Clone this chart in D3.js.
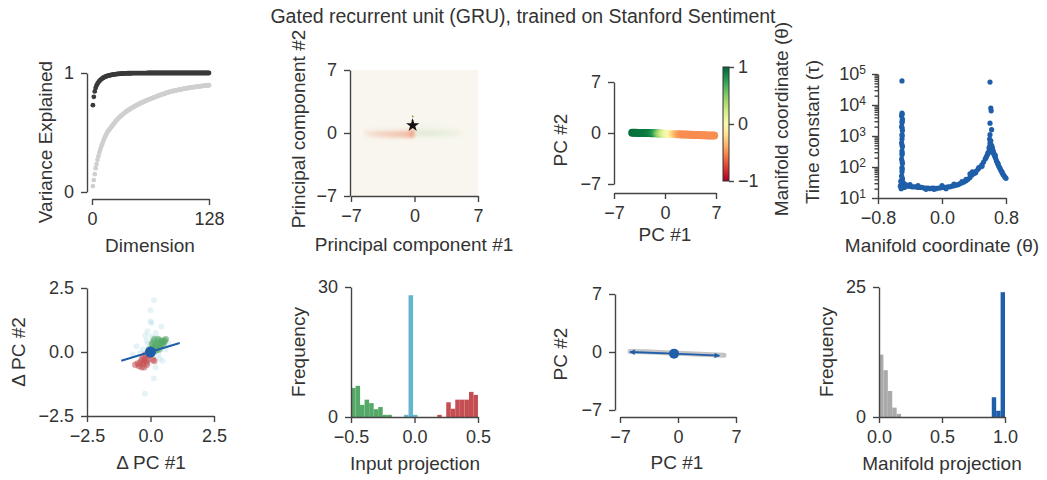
<!DOCTYPE html>
<html><head><meta charset="utf-8">
<script src="https://cdn.jsdelivr.net/npm/d3@7"></script>
<style>
body{margin:0;background:#fff;}
svg text{font-family:"Liberation Sans",Arial,Helvetica,sans-serif;fill:#333;}
</style></head><body>
<svg id="c" width="1047" height="480"></svg>
<script>
// ---------------- DATA ----------------
const title = "Gated recurrent unit (GRU), trained on Stanford Sentiment";

// Panel 1: cumulative variance explained (dimension 1..128)
const varDims = d3.range(1, 129);
const varState = [0.73,0.80,0.845,0.875,0.895,0.91,0.922,0.932,0.94,0.947,0.953,0.958,0.963,0.967,0.97,0.973,0.976,0.978,0.98,0.982,
0.984,0.985,0.987,0.988,0.989,0.99,0.991,0.992,0.993,0.993,0.994,0.995,0.995,0.996,0.996,0.997,0.997,0.997,0.998,0.998,
0.998,0.998,0.998,0.999,0.999,0.999,0.999,0.999,0.999,0.999,0.999,0.999,0.999,0.999,0.999,0.999,0.999,0.999,0.999,0.999,
1,1,1,1,1,1,1,1,1,1,1,1,1,1,1,1,1,1,1,1,1,1,1,1,1,1,1,1,1,1,1,1,1,1,1,1,1,1,1,1,
1,1,1,1,1,1,1,1,1,1,1,1,1,1,1,1,1,1,1,1,1,1,1,1,1,1,1,1];
const varRandom = [0.05,0.1,0.15,0.2,0.235,0.27,0.3,0.33,0.355,0.38,0.4,0.42,0.44,0.46,0.475,0.49,0.505,0.515,0.525,0.535,
0.545,0.555,0.565,0.575,0.585,0.595,0.605,0.613,0.62,0.628,0.635,0.642,0.648,0.655,0.661,0.667,0.673,0.679,0.684,0.689,
0.694,0.699,0.704,0.709,0.713,0.717,0.722,0.726,0.73,0.734,0.738,0.742,0.746,0.75,0.753,0.757,0.76,0.764,0.767,0.77,
0.774,0.777,0.78,0.783,0.786,0.789,0.792,0.795,0.798,0.801,0.804,0.807,0.81,0.813,0.816,0.818,0.821,0.823,0.826,0.828,
0.832,0.835,0.837,0.839,0.841,0.843,0.845,0.847,0.849,0.851,0.852,0.854,0.856,0.857,0.859,0.861,0.862,0.864,0.865,0.867,
0.868,0.87,0.871,0.872,0.874,0.875,0.876,0.877,0.879,0.88,0.881,0.882,0.883,0.884,0.885,0.886,0.887,0.888,0.889,0.89,
0.891,0.892,0.893,0.894,0.895,0.895,0.896,0.897];

// Panel 2: 2D density of states (x-bin centres, rows; negative = red, positive = green)
const heatX = [-5.25,-4.75,-4.25,-3.75,-3.25,-2.75,-2.25,-1.75,-1.25,-0.75,-0.25,0.25,0.75,1.25,1.75,2.25,2.75,3.25,3.75,4.25,4.75,5.25];
const heatRowY = [0.9, 0.35, 0, -0.35];
const heatUp  = [0,0,0,0,0,0,0,0,0,0,-0.2,0.06,0.06,0.06,0.05,0.04,0.03,0.02,0,0,0,0];
const heatTop = [-0.03,-0.05,-0.06,-0.07,-0.08,-0.09,-0.1,-0.11,-0.13,-0.16,-0.5,0.12,0.12,0.12,0.12,0.11,0.1,0.08,0.06,0.05,0.03,0];
const heatMid = [-0.15,-0.25,-0.3,-0.33,-0.36,-0.39,-0.42,-0.46,-0.5,-0.6,-0.85,0.24,0.24,0.24,0.24,0.23,0.21,0.19,0.16,0.12,0.08,0.04];
const heatBot = [-0.08,-0.14,-0.2,-0.25,-0.3,-0.35,-0.4,-0.45,-0.5,-0.55,-0.7,0.12,0.12,0.12,0.12,0.12,0.11,0.1,0.08,0.06,0.04,0];
const fixedPoint = [-0.2, 0.85];

// Panel 3: line attractor coloured by manifold coordinate
const manPC1 = [-4.5,-4.25,-4,-3.75,-3.5,-3.25,-3,-2.75,-2.5,-2.25,-2,-1.75,-1.5,-1.25,-1,-0.75,-0.5,-0.25,0,0.25,0.5,0.75,1,1.25,1.5,1.75,2,2.25,2.5,2.75,3,3.25,3.5,3.75,4,4.25,4.5,4.75,5,5.25,5.5,5.75,6,6.25,6.5,6.75];
const manPC2 = [0.02,0.02,0.02,0.01,0.01,0.01,0,0,0,-0.01,-0.02,-0.03,-0.04,-0.05,-0.06,-0.07,-0.08,-0.09,-0.1,-0.11,-0.12,-0.13,-0.14,-0.15,-0.16,-0.17,-0.18,-0.19,-0.2,-0.21,-0.22,-0.23,-0.24,-0.25,-0.26,-0.27,-0.28,-0.29,-0.3,-0.31,-0.32,-0.33,-0.33,-0.34,-0.34,-0.35];
const manTheta = [0.97,0.97,0.96,0.96,0.95,0.95,0.94,0.94,0.93,0.92,0.9,0.86,0.8,0.7,0.56,0.43,0.32,0.22,0.14,0.07,0.02,-0.05,-0.15,-0.25,-0.33,-0.4,-0.45,-0.48,-0.5,-0.5,-0.5,-0.5,-0.5,-0.5,-0.5,-0.5,-0.5,-0.5,-0.5,-0.5,-0.5,-0.5,-0.5,-0.5,-0.5,-0.5];
const cbTicks = [1, 0, -1];

// Panel 4: time constants along the manifold
const tcTheta = [
-0.5,-0.5,-0.505,-0.495,-0.5,-0.505,-0.495,-0.5,-0.5,-0.505,-0.495,-0.5,-0.5,-0.505,-0.495,-0.5,-0.5,-0.505,-0.495,-0.5,-0.51,-0.49,-0.5,
-0.498,-0.498,-0.498,-0.498,-0.498,-0.498,-0.498,-0.498,-0.498,
-0.52,-0.48,-0.46,-0.515,-0.47,-0.44,-0.51,
-0.45,-0.425,-0.4,-0.375,-0.35,-0.325,-0.3,-0.275,-0.25,-0.225,-0.2,-0.175,-0.15,-0.125,-0.1,-0.075,-0.05,-0.025,0,0.025,0.05,0.075,0.1,0.125,0.15,0.175,0.2,0.225,0.25,0.275,0.3,0.325,0.35,0.375,0.4,0.425,0.45,0.475,0.5,0.52,0.54,0.56,0.575,0.59,0.6,
-0.4,-0.3,-0.2,-0.1,0,0.05,0.15,0.25,0.3,0.35,0.38,0.42,0.46,0.5,0.55,0.57,
0.6,0.61,0.615,0.6,0.62,0.6,0.595,0.6,0.61,0.62,0.63,0.615,0.625,0.605,0.59,
0.64,0.65,0.66,0.67,0.68,0.69,0.7,0.71,0.72,0.73,0.74,0.75,0.76,0.77,0.78,0.79,0.8,0.645,0.665,0.7,0.75];
const tcTau = [
60000,5500,4500,3500,2700,2000,1500,1100,800,600,450,330,250,180,130,95,70,52,40,33,28,25,22,
5000,3000,1800,1000,500,280,150,85,45,
24,30,27,35,22,26,20,
25,24,24,23,23,23,22,22,22,21,21,21,20,21,21,20,21,21,22,22,22,23,23,24,25,26,27,29,31,33,36,40,46,55,62,72,85,100,120,145,180,230,290,380,460,
27,25,19,19,25,20,28,34,40,60,70,65,95,105,200,260,
55000,8000,6500,2600,1600,1100,800,600,700,500,420,350,300,520,430,
330,260,220,190,160,140,120,105,95,85,75,66,60,55,50,46,43,280,240,130,70];

// Panel 5: input-driven state changes
const dpcFaintX = [0.14,0,0,0.04,-0.12,0.21,0.43,-0.2,0.13,-0.22,0.47,-0.55,-0.3,0.3,-0.1,0.1,0.25,-0.4,0.6,0.05,-0.15,0.35,-0.05,0.2,0.7,-0.7];
const dpcFaintY = [2.02,1.63,1.2,1.13,0.81,0.74,1.0,0.64,-1.04,-1.63,-0.34,0.22,0.1,-0.1,0.3,-0.2,0.55,-0.05,0.1,0.6,0.45,-0.25,-0.45,-0.6,0.35,-0.1];
const dpcGreenX = [0.2,0.3,0.45,0.55,0.6,0.35,0.15,0.25,0.1,0.05,0.4,0.5,0.3,0.2,-0.05,0.15,0.35,0.45,0.25,0.55,0.1,0.4];
const dpcGreenY = [0.3,0.35,0.4,0.45,0.5,0.2,0.15,0.1,0.4,0.3,0.25,0.3,0.5,0.05,0.1,0.5,0.1,0.35,0.25,0.4,0.2,0.45];
const dpcRedX = [-0.6,-0.45,-0.35,-0.3,-0.25,-0.2,-0.15,-0.1,-0.3,-0.4,-0.2,0.1,-0.05,-0.25,-0.5,0.15,-0.35,-0.15];
const dpcRedY = [-0.5,-0.55,-0.6,-0.45,-0.35,-0.25,-0.5,-0.3,-0.2,-0.4,-0.1,-0.3,-0.15,-0.6,-0.45,-0.35,-0.3,-0.4];
const dpcLineX = [-1.15, 1.15];
const dpcLineY = [-0.34, 0.35];

// Panel 6: histogram of input projections (bin left edges, heights)
const projBinW = 0.0357;
const projGreenX0 = [-0.5,-0.464,-0.429,-0.393,-0.357,-0.321,-0.286,-0.25,-0.214];
const projGreenN  = [6.7,7.2,2.8,4.0,3.2,1.8,2.3,0.5,0.5];
const projCyanX0 = [-0.083,-0.047,-0.012];
const projCyanN  = [0.5,28.1,0.5];
const projRedX0 = [0.179,0.214,0.25,0.286,0.321,0.357,0.393,0.429,0.464];
const projRedN  = [0.5,0,3.4,1.9,4.0,4.0,4.0,5.8,5.1];

// Panel 7: manifold and input direction
const pathPC1 = [-5.8,-4,-2,0,2,4,5.55];
const pathPC2 = [0.05,0.02,-0.05,-0.15,-0.25,-0.33,-0.4];
const inputCenter = [-0.48, -0.2];
const inputEndsPC1 = [-5.8, 5.0];
const inputEndsPC2 = [0.0, -0.44];

// Panel 8: histogram of manifold projections
const mpBinW = 0.035;
const mpGrayX0 = [0,0.035,0.07,0.105,0.14];
const mpGrayN  = [12.0,9.0,5.0,1.8,0.6];
const mpBlueX0 = [0.895,0.93,0.965];
const mpBlueN  = [3.8,1.2,24.0];

// ---------------- DRAWING ----------------
const svg = d3.select("#c");
const AX = "#444", TXT = "#333", FS_T = 18, FS_L = 19;
const BLUE = "#1f5ea8";

function drawAxis(scale, orient, pos, ticks, labels, o = {}) {
  const ax = (orient === "left" ? d3.axisLeft(scale) : d3.axisBottom(scale))
    .tickValues(ticks).tickFormat((d, i) => labels ? labels[i] : "")
    .tickSize(o.size || 6).tickSizeOuter(0).tickPadding(o.pad || 7);
  const g = svg.append("g")
    .attr("transform", orient === "left" ? `translate(${pos},0)` : `translate(0,${pos})`)
    .call(ax).attr("font-family", null).attr("font-size", null);
  g.select(".domain").attr("stroke", AX).attr("stroke-width", 1.4);
  g.selectAll(".tick line").attr("stroke", AX).attr("stroke-width", 1.4);
  g.selectAll(".tick text").attr("font-size", FS_T).attr("fill", TXT);
  if (o.noDomain) g.select(".domain").remove();
  return g;
}
function label(txt, x, y, rot) {
  const t = svg.append("text").attr("font-size", FS_L).attr("text-anchor", "middle")
    .attr("dy", "0.35em").text(txt);
  if (rot) t.attr("transform", `translate(${x},${y}) rotate(-90)`);
  else t.attr("x", x).attr("y", y);
  return t;
}

svg.append("text").attr("x", 523).attr("y", 16).attr("dy", "0.35em").attr("text-anchor", "middle")
  .attr("font-size", 19.5).text(title);

// ---- Panel 1
{
  const x = d3.scaleLinear().domain([0, 128]).range([92, 209]);
  const y = d3.scaleLinear().domain([0, 1]).range([192, 73]);
  svg.append("g").selectAll("circle").data(varDims).join("circle")
    .attr("cx", d => x(d)).attr("cy", (d, i) => y(varRandom[i])).attr("r", 2.4).attr("fill", "#cfcfcf");
  svg.append("g").selectAll("circle").data(varDims).join("circle")
    .attr("cx", d => x(d)).attr("cy", (d, i) => y(varState[i])).attr("r", 2.4).attr("fill", "#3a3a3a");
  drawAxis(x, "bottom", 199, [0, 128], ["0", "128"]);
  drawAxis(y, "left", 87, [0, 1], ["0", "1"]);
  label("Variance Explained", 45, 142, true);
  label("Dimension", 150, 245);
}

// ---- Panel 2
{
  const x = d3.scaleLinear().domain([-7, 7]).range([351, 478]);
  const y = d3.scaleLinear().domain([-7, 7]).range([196, 70]);
  const defs = svg.append("defs");
  defs.append("clipPath").attr("id", "clip2").append("rect")
    .attr("x", 351).attr("y", 70).attr("width", 127).attr("height", 126);
  defs.append("filter").attr("id", "blur2").attr("x", "-50%").attr("y", "-50%").attr("width", "200%").attr("height", "200%")
    .append("feGaussianBlur").attr("stdDeviation", 1.6);
  const g = svg.append("g").attr("clip-path", "url(#clip2)");
  g.append("rect").attr("x", 351).attr("y", 70).attr("width", 127).attr("height", 126).attr("fill", "#f8f6ee");
  const hg = g.append("g").attr("filter", "url(#blur2)");
  const rows = [heatUp, heatTop, heatMid, heatBot];
  rows.forEach((row, ri) => {
    hg.selectAll(null).data(row).join("rect")
      .attr("x", (d, i) => x(heatX[i] - 0.25)).attr("width", x(0.5) - x(0))
      .attr("y", y(heatRowY[ri] + 0.2)).attr("height", y(0) - y(0.4))
      .attr("fill", d => d < 0 ? "#e97a52" : "#86bd7d")
      .attr("opacity", d => Math.min(1, Math.abs(d) * 0.75));
  });
  g.append("circle").attr("cx", x(-0.2)).attr("cy", y(1.85)).attr("r", 0.9).attr("fill", "#8a8a30");
  g.append("circle").attr("cx", x(-0.25)).attr("cy", y(1.4)).attr("r", 0.8).attr("fill", "#a07040");
  g.append("path").attr("d", d3.symbol(d3.symbolStar, 55)())
    .attr("transform", `translate(${x(fixedPoint[0])},${y(fixedPoint[1])})`).attr("fill", "#111");
  drawAxis(x, "bottom", 196, [-7, 0, 7], ["\u22127", "0", "7"]);
  drawAxis(y, "left", 350, [-7, 0, 7], ["\u22127", "0", "7"]);
  label("Principal component #2", 298, 129, true);
  label("Principal component #1", 414, 244);
}

// ---- Panel 3
{
  const x = d3.scaleLinear().domain([-7, 7]).range([614, 716]);
  const y = d3.scaleLinear().domain([-7, 7]).range([184, 82]);
  const col = v => d3.interpolateRdYlGn((v + 1) / 2);
  svg.append("g").selectAll("circle").data(manPC1).join("circle")
    .attr("cx", d => x(d)).attr("cy", (d, i) => y(manPC2[i])).attr("r", 4)
    .attr("fill", (d, i) => col(manTheta[i]));
  drawAxis(x, "bottom", 193, [-7, 0, 7], ["\u22127", "0", "7"]);
  drawAxis(y, "left", 614, [-7, 0, 7], ["\u22127", "0", "7"]);
  label("PC #2", 560, 140, true);
  label("PC #1", 665, 234);
  // colorbar
  const cb = d3.scaleLinear().domain([-1, 1]).range([181, 67]);
  const grad = svg.append("defs").append("linearGradient").attr("id", "cbg")
    .attr("x1", 0).attr("y1", 1).attr("x2", 0).attr("y2", 0);
  d3.range(0, 1.0001, 0.05).forEach(t => grad.append("stop").attr("offset", t).attr("stop-color", d3.interpolateRdYlGn(t)));
  svg.append("rect").attr("x", 723).attr("y", 67).attr("width", 6).attr("height", 114)
    .attr("fill", "url(#cbg)").attr("stroke", "#333").attr("stroke-width", 1);
  const cg = svg.append("g").attr("transform", "translate(729,0)")
    .call(d3.axisRight(cb).tickValues(cbTicks).tickFormat(d => d < 0 ? "\u2212" + Math.abs(d) : String(d)).tickSize(5).tickPadding(4).tickSizeOuter(0))
    .attr("font-family", null).attr("font-size", null);
  cg.select(".domain").remove();
  cg.selectAll(".tick line").attr("stroke", AX).attr("stroke-width", 1.4);
  cg.selectAll(".tick text").attr("font-size", FS_T).attr("fill", TXT);
  label("Manifold coordinate (\u03b8)", 781, 119, true);
}

// ---- Panel 4
{
  const x = d3.scaleLinear().domain([-0.8, 0.8]).range([878, 1006]);
  const y = d3.scaleLog().domain([10, 1e5]).range([198, 74]);
  svg.append("g").selectAll("circle").data(tcTheta).join("circle")
    .attr("cx", d => x(d)).attr("cy", (d, i) => y(tcTau[i])).attr("r", 2.6).attr("fill", BLUE);
  drawAxis(x, "bottom", 198, [-0.8, 0, 0.8], ["\u22120.8", "0.0", "0.8"]);
  const minor = [];
  [10, 100, 1000, 10000].forEach(b => d3.range(2, 10).forEach(k => minor.push(b * k)));
  drawAxis(y, "left", 878, minor, null, { size: 3.5, noDomain: true });
  const gy = drawAxis(y, "left", 878, [10, 100, 1000, 10000, 100000], null, { pad: 6 });
  gy.selectAll(".tick text").each(function (d) {
    const e = Math.round(Math.log10(d));
    const t = d3.select(this).text("10");
    t.append("tspan").attr("dy", "-0.5em").attr("font-size", 12).text(e);
  });
  label("Time constant (\u03c4)", 812, 132, true);
  label("Manifold coordinate (\u03b8)", 942, 245);
}

// ---- Panel 5
{
  const x = d3.scaleLinear().domain([-2.5, 2.5]).range([87, 214]);
  const y = d3.scaleLinear().domain([-2.5, 2.5]).range([416, 288]);
  const g = svg.append("g");
  g.selectAll(null).data(dpcFaintX).join("circle").attr("cx", d => x(d)).attr("cy", (d, i) => y(dpcFaintY[i]))
    .attr("r", 3).attr("fill", "#a9d6e5").attr("opacity", 0.3);
  g.selectAll(null).data(dpcRedX).join("circle").attr("cx", d => x(d)).attr("cy", (d, i) => y(dpcRedY[i]))
    .attr("r", 3.2).attr("fill", "#c44e52").attr("opacity", 0.55);
  g.selectAll(null).data(dpcGreenX).join("circle").attr("cx", d => x(d)).attr("cy", (d, i) => y(dpcGreenY[i]))
    .attr("r", 3.2).attr("fill", "#55a868").attr("opacity", 0.6);
  g.append("line").attr("x1", x(dpcLineX[0])).attr("y1", y(dpcLineY[0])).attr("x2", x(dpcLineX[1])).attr("y2", y(dpcLineY[1]))
    .attr("stroke", BLUE).attr("stroke-width", 2);
  g.append("circle").attr("cx", x(0)).attr("cy", y(0)).attr("r", 5.5).attr("fill", BLUE);
  drawAxis(x, "bottom", 416, [-2.5, 0, 2.5], ["\u22122.5", "0.0", "2.5"]);
  drawAxis(y, "left", 87, [-2.5, 0, 2.5], ["\u22122.5", "0.0", "2.5"]);
  label("\u0394 PC #2", 18, 352, true);
  label("\u0394 PC #1", 151, 462);
}

// ---- Panel 6
{
  const x = d3.scaleLinear().domain([-0.5, 0.5]).range([351, 478]);
  const y = d3.scaleLinear().domain([0, 30]).range([417, 287]);
  const bars = (x0, n, c) => svg.append("g").selectAll("rect").data(x0).join("rect")
    .attr("x", d => x(d)).attr("width", x(projBinW) - x(0))
    .attr("y", (d, i) => y(n[i])).attr("height", (d, i) => y(0) - y(n[i])).attr("fill", c);
  bars(projGreenX0, projGreenN, "#55a868");
  bars(projCyanX0, projCyanN, "#64b5cd");
  bars(projRedX0, projRedN, "#c44e52");
  drawAxis(x, "bottom", 417, [-0.5, 0, 0.5], ["\u22120.5", "0.0", "0.5"]);
  drawAxis(y, "left", 351, [0, 30], ["0", "30"]);
  label("Frequency", 298, 352, true);
  label("Input projection", 415, 463);
}

// ---- Panel 7
{
  const x = d3.scaleLinear().domain([-7, 7]).range([620, 736]);
  const y = d3.scaleLinear().domain([-7, 7]).range([410, 294]);
  const defs = svg.append("defs");
  defs.append("marker").attr("id", "arr").attr("viewBox", "0 -5 10 10").attr("refX", 9).attr("refY", 0)
    .attr("markerWidth", 4).attr("markerHeight", 3).attr("orient", "auto").attr("markerUnits", "strokeWidth")
    .append("path").attr("d", "M0,-5L10,0L0,5Z").attr("fill", BLUE);
  svg.append("path").datum(pathPC1).attr("d", d3.line().x(d => x(d)).y((d, i) => y(pathPC2[i])))
    .attr("fill", "none").attr("stroke", "#c4c4c4").attr("stroke-width", 5).attr("stroke-linecap", "round");
  inputEndsPC1.forEach((ex, i) => {
    svg.append("line").attr("x1", x(inputCenter[0])).attr("y1", y(inputCenter[1]))
      .attr("x2", x(ex)).attr("y2", y(inputEndsPC2[i]))
      .attr("stroke", BLUE).attr("stroke-width", 1.8).attr("marker-end", "url(#arr)");
  });
  svg.append("circle").attr("cx", x(inputCenter[0])).attr("cy", y(inputCenter[1])).attr("r", 5).attr("fill", BLUE);
  drawAxis(x, "bottom", 417, [-7, 0, 7], ["\u22127", "0", "7"]);
  drawAxis(y, "left", 615, [-7, 0, 7], ["\u22127", "0", "7"]);
  label("PC #2", 560, 354, true);
  label("PC #1", 677, 462);
}

// ---- Panel 8
{
  const x = d3.scaleLinear().domain([0, 1]).range([879, 1005]);
  const y = d3.scaleLinear().domain([0, 25]).range([417, 287]);
  const bars = (x0, n, c) => svg.append("g").selectAll("rect").data(x0).join("rect")
    .attr("x", d => x(d)).attr("width", x(mpBinW) - x(0))
    .attr("y", (d, i) => y(n[i])).attr("height", (d, i) => y(0) - y(n[i])).attr("fill", c);
  bars(mpGrayX0, mpGrayN, "#aaaaaa");
  bars(mpBlueX0, mpBlueN, BLUE);
  drawAxis(x, "bottom", 417, [0, 0.5, 1], ["0.0", "0.5", "1.0"]);
  drawAxis(y, "left", 879, [0, 25], ["0", "25"]);
  label("Frequency", 826, 352, true);
  label("Manifold projection", 942, 463);
}
</script>
</body></html>
